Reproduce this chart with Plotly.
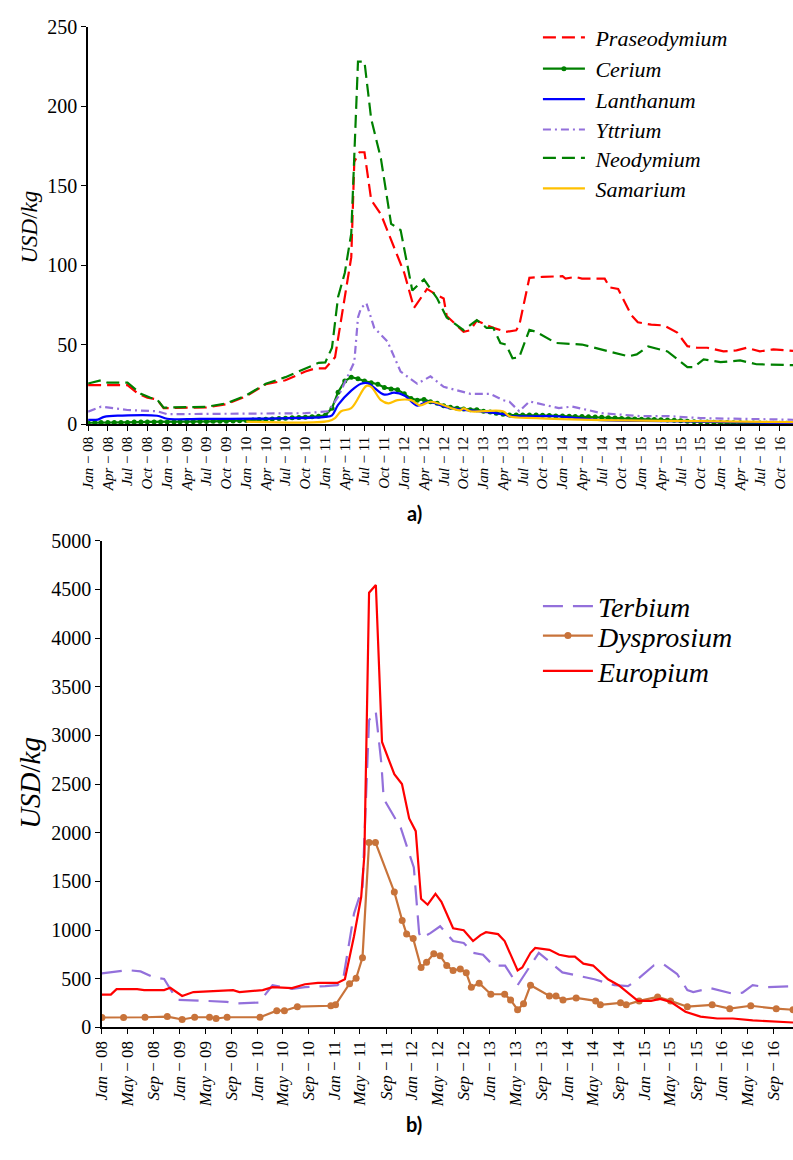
import plotly.graph_objects as go
import pandas as pd

# ---------------- panel (a) data : USD/kg ----------------
pr_dates = ["2008-01-01", "2008-04-01", "2008-07-01", "2008-08-15", "2008-10-01", "2008-11-15",
            "2008-12-15", "2009-07-01", "2009-10-01", "2010-01-01", "2010-04-01", "2010-07-01",
            "2010-10-01", "2010-11-15", "2011-01-01", "2011-02-15", "2011-05-01", "2011-05-15",
            "2011-06-08", "2011-07-01", "2011-08-01", "2011-09-15", "2012-01-01", "2012-02-15",
            "2012-04-15", "2012-06-01", "2012-07-01", "2012-07-15", "2012-10-01", "2012-11-01",
            "2012-12-01", "2013-02-15", "2013-04-15", "2013-06-01", "2013-06-15", "2013-08-01",
            "2013-10-01", "2014-01-01", "2014-01-15", "2014-03-01", "2014-04-01", "2014-07-15",
            "2014-08-07", "2014-09-15", "2014-11-15", "2014-12-15", "2015-02-15", "2015-04-15",
            "2015-06-15", "2015-08-01", "2015-09-15", "2015-11-01", "2016-01-15", "2016-03-15",
            "2016-05-01", "2016-07-01", "2016-09-01", "2016-12-01"]
pr_vals = [24.5, 24.5, 24.5, 19.5, 16.5, 15.5,
           10.0, 10.5, 12.5, 17.5, 25.0, 27.5,
           33.0, 35.0, 35.0, 42.0, 105.0, 165.0,
           171.0, 171.0, 141.0, 132.0, 95.0, 73.0,
           85.0, 81.0, 79.0, 68.0, 58.0, 59.0,
           65.0, 60.5, 58.0, 59.0, 62.0, 92.0,
           92.6, 93.0, 91.5, 92.6, 91.5, 91.5,
           86.0, 85.0, 68.5, 64.0, 62.5, 62.0,
           57.5, 49.0, 48.0, 48.0, 45.7, 46.3,
           48.0, 45.7, 47.0, 46.0]

nd_dates = ["2008-01-01", "2008-03-01", "2008-04-01", "2008-07-01", "2008-09-01", "2008-10-15",
            "2008-11-15", "2008-12-15", "2009-07-01", "2009-10-01", "2010-01-01", "2010-04-01",
            "2010-07-01", "2010-10-01", "2010-12-01", "2011-01-01", "2011-02-01", "2011-03-01",
            "2011-04-01", "2011-05-01", "2011-05-15", "2011-06-01", "2011-07-01", "2011-08-01",
            "2011-09-15", "2011-11-01", "2011-12-15", "2012-02-07", "2012-04-01", "2012-06-01",
            "2012-07-15", "2012-10-01", "2012-12-01", "2013-01-15", "2013-02-15", "2013-03-20",
            "2013-04-15", "2013-05-15", "2013-06-15", "2013-08-01", "2013-09-01", "2013-12-01",
            "2014-04-01", "2014-07-01", "2014-11-01", "2014-12-10", "2015-02-01", "2015-05-01",
            "2015-06-15", "2015-08-01", "2015-09-01", "2015-10-15", "2016-01-01", "2016-04-01",
            "2016-06-15", "2016-12-01"]
nd_vals = [25.5, 27.5, 26.0, 26.0, 19.0, 16.5,
           15.5, 10.3, 10.8, 13.0, 18.0, 25.3,
           29.5, 35.0, 38.5, 38.8, 48.0, 80.0,
           95.0, 120.0, 173.0, 228.0, 228.0, 192.0,
           167.0, 126.0, 122.0, 84.0, 91.0, 79.0,
           67.0, 59.0, 65.4, 60.5, 60.5, 51.0,
           50.0, 41.4, 42.0, 59.3, 58.0, 51.0,
           50.0, 47.0, 42.6, 43.8, 48.8, 45.7,
           40.7, 35.8, 35.8, 40.7, 38.9, 40.0,
           37.6, 37.0]

y_dates = ["2008-01-01", "2008-03-01", "2008-07-01", "2008-11-15", "2009-01-01", "2010-10-01",
           "2011-01-15", "2011-03-01", "2011-05-15", "2011-06-01", "2011-06-15", "2011-07-10",
           "2011-08-15", "2011-10-15", "2011-12-15", "2012-03-01", "2012-05-01", "2012-07-01",
           "2012-11-01", "2013-02-01", "2013-04-01", "2013-05-01", "2013-06-15", "2013-08-01",
           "2013-12-15", "2014-02-15", "2014-07-01", "2014-10-01", "2015-01-01", "2015-05-01",
           "2015-10-01", "2016-12-01"]
y_vals = [7.8, 10.9, 8.8, 8.0, 6.2, 6.8,
          8.0, 17.0, 39.0, 67.0, 73.0, 76.0,
          60.5, 52.0, 33.0, 25.3, 30.0, 23.4,
          19.0, 19.0, 15.0, 14.0, 8.0, 14.2,
          10.0, 11.0, 6.8, 5.8, 4.9, 5.0,
          3.7, 2.7]

la_dates = ["2008-01-01", "2008-02-15", "2008-03-15", "2008-06-01", "2008-11-15", "2009-01-01",
            "2009-06-01", "2010-06-01", "2011-01-01", "2011-02-01", "2011-03-01", "2011-05-01",
            "2011-06-15", "2011-07-15", "2011-10-01", "2011-11-15", "2012-01-01", "2012-03-01",
            "2012-04-15", "2012-08-01", "2012-12-15", "2013-04-01", "2013-05-01", "2013-12-01",
            "2014-07-01", "2015-05-01", "2016-12-01"]
la_vals = [2.7, 2.8, 4.5, 5.3, 5.2, 3.3,
           3.2, 3.6, 4.5, 5.5, 12.0, 21.0,
           25.3, 25.7, 18.5, 19.7, 18.0, 11.5,
           14.0, 10.0, 8.0, 6.2, 5.0, 4.9,
           2.5, 1.8, 0.6]

sm_dates = ["2010-01-01", "2011-01-15", "2011-02-15", "2011-03-15", "2011-05-01", "2011-07-10",
            "2011-08-01", "2011-09-15", "2011-10-20", "2011-12-01", "2012-02-01", "2012-03-15",
            "2012-05-01", "2012-09-15", "2012-10-01", "2012-11-01", "2013-04-01", "2013-05-01",
            "2013-09-01", "2014-07-01", "2015-10-01", "2016-12-01"]
sm_vals = [1.5, 1.8, 3.7, 8.0, 10.0, 24.0,
           23.4, 15.0, 13.0, 15.0, 15.0, 11.7,
           14.0, 8.6, 9.9, 8.0, 8.0, 4.9,
           3.7, 2.5, 1.8, 1.2]

# Cerium: monthly Jan-2008 .. Dec-2016
ce_vals = [0.8, 0.8, 0.9, 1.0, 1.0, 1.0, 1.0, 1.2, 1.2, 1.3, 1.3, 1.3,
           1.3, 1.3, 1.4, 1.5, 1.5, 1.6, 1.6, 1.7, 1.8, 1.8, 1.9, 2.0,
           2.2, 2.5, 2.8, 3.0, 3.2, 3.5, 3.7, 3.9, 4.1, 4.3, 4.6, 4.9,
           5.5, 10.0, 20.0, 27.0, 29.5, 28.5, 27.0, 26.0, 25.0, 23.0, 22.0, 21.5,
           19.0, 16.0, 15.0, 15.5, 14.0, 13.0, 11.5, 10.5, 10.0, 9.5, 9.0, 9.0,
           8.0, 7.5, 6.8, 6.2, 5.6, 5.6, 5.6, 5.6, 5.6, 5.5, 5.3, 5.1,
           5.0, 4.9, 4.8, 4.7, 4.5, 4.4, 4.3, 4.0, 3.8, 3.5, 3.3, 3.1,
           3.0, 2.9, 2.8, 2.7, 2.5, 2.3, 2.0, 1.8, 1.5, 1.3, 1.2, 1.1,
           1.0, 0.9, 0.8, 0.8, 0.7, 0.6, 0.6, 0.5, 0.5, 0.5, 0.5, 0.5]
ce_dates = [d.strftime("%Y-%m-%d") for d in pd.date_range("2008-01-01", periods=len(ce_vals), freq="MS")]

# ---------------- panel (b) data : USD/kg ----------------
tb_dates = ["2008-01-01", "2008-05-01", "2008-07-01", "2008-09-01", "2008-10-20", "2008-12-07",
            "2008-12-20", "2009-05-07", "2009-08-10", "2009-09-25", "2010-01-10", "2010-02-12",
            "2010-03-15", "2010-06-15", "2010-08-15", "2010-11-18", "2011-01-15", "2011-02-10",
            "2011-04-03", "2011-05-13", "2011-06-13", "2011-07-07", "2011-07-15", "2011-08-10",
            "2011-08-21", "2011-11-10", "2012-01-10", "2012-02-04", "2012-02-13", "2012-03-28",
            "2012-05-13", "2012-07-13", "2012-09-01", "2012-10-15", "2012-12-01", "2013-01-19",
            "2013-03-15", "2013-05-13", "2013-08-21", "2013-12-10", "2014-05-10", "2014-08-13",
            "2014-10-15", "2014-11-13", "2015-02-15", "2015-04-01", "2015-06-04", "2015-07-22",
            "2015-08-19", "2015-11-07", "2016-02-21", "2016-04-07", "2016-05-25", "2016-07-28",
            "2016-12-01"]
tb_vals = [554, 588, 575, 514, 497, 333,
           282, 272, 262, 245, 255, 346,
           433, 396, 413, 423, 433, 484,
           1169, 1441, 3155, 3246, 3236, 2712,
           2349, 2046, 1643, 968, 917, 968,
           1038, 887, 867, 766, 746, 635,
           635, 433, 766, 565, 494, 433,
           423, 464, 638, 648, 548, 383,
           363, 403, 346, 356, 433, 413,
           423]

dy_dates = ["2008-01-01", "2008-04-12", "2008-07-22", "2008-11-04", "2009-01-13", "2009-03-13",
            "2009-05-22", "2009-06-22", "2009-08-13", "2010-01-15", "2010-04-04", "2010-05-10",
            "2010-07-10", "2010-12-15", "2011-01-06", "2011-03-13", "2011-04-13", "2011-05-13",
            "2011-06-13", "2011-07-13", "2011-10-10", "2011-11-16", "2011-12-07", "2012-01-07",
            "2012-02-13", "2012-03-10", "2012-04-13", "2012-05-13", "2012-06-13", "2012-07-13",
            "2012-08-16", "2012-09-13", "2012-10-07", "2012-11-13", "2013-01-07", "2013-03-13",
            "2013-04-10", "2013-05-13", "2013-06-10", "2013-07-13", "2013-10-10", "2013-11-10",
            "2013-12-13", "2014-02-13", "2014-05-16", "2014-06-07", "2014-09-10", "2014-10-07",
            "2014-12-07", "2015-03-04", "2015-05-04", "2015-07-22", "2015-11-16", "2016-02-07",
            "2016-05-16", "2016-09-13", "2016-12-01"]
dy_vals = [101, 101, 104, 111, 81, 104,
           104, 91, 104, 104, 171, 171,
           212, 222, 232, 448, 505, 716,
           1900, 1900, 1391, 1099, 958, 912,
           615, 670, 756, 736, 635, 585,
           600, 560, 413, 454, 340, 340,
           282, 181, 242, 433, 322, 322,
           282, 302, 272, 232, 252, 232,
           272, 312, 272, 212, 232, 192,
           222, 192, 181]

eu_dates = ["2008-01-01", "2008-02-12", "2008-03-10", "2008-06-15", "2008-07-18", "2008-10-20",
            "2008-11-18", "2009-01-13", "2009-03-07", "2009-09-10", "2009-10-10", "2010-01-28",
            "2010-03-15", "2010-06-15", "2010-08-15", "2010-10-15", "2011-01-15", "2011-02-19",
            "2011-04-03", "2011-05-07", "2011-05-22", "2011-06-13", "2011-07-15", "2011-08-13",
            "2011-10-10", "2011-11-15", "2011-12-19", "2012-01-19", "2012-02-13", "2012-03-15",
            "2012-04-21", "2012-05-19", "2012-07-13", "2012-09-01", "2012-10-15", "2012-11-19",
            "2012-12-15", "2013-02-10", "2013-03-13", "2013-05-13", "2013-06-04", "2013-07-13",
            "2013-08-04", "2013-10-10", "2013-11-25", "2014-01-10", "2014-02-07", "2014-03-19",
            "2014-05-04", "2014-07-13", "2014-09-01", "2014-12-01", "2015-02-01", "2015-03-15",
            "2015-05-04", "2015-07-13", "2015-09-22", "2015-12-10", "2016-02-21", "2016-05-25",
            "2016-12-01"]
eu_vals = [336, 336, 393, 393, 383, 383,
           406, 322, 363, 383, 363, 383,
           413, 403, 443, 457, 457, 494,
           937, 1341, 1774, 4466, 4546, 2933,
           2601, 2500, 2147, 2016, 1321, 1260,
           1371, 1290, 1018, 998, 887, 948,
           978, 958, 887, 585, 615, 766,
           816, 796, 746, 726, 726, 655,
           635, 494, 433, 272, 272, 292,
           262, 161, 111, 91, 91, 71,
           50]

# ---------------- tick labels ----------------
months = ["Jan", "Feb", "Mar", "Apr", "May", "Jun", "Jul", "Aug", "Sep", "Oct", "Nov", "Dec"]
ticks_a = pd.date_range("2008-01-01", "2016-10-01", freq="3MS")
ticks_b = pd.date_range("2008-01-01", "2016-09-01", freq="4MS")
tickvals_a = [d.strftime("%Y-%m-%d") for d in ticks_a]
ticktext_a = ["<i>%s</i> − %02d" % (months[d.month - 1], d.year % 100) for d in ticks_a]
tickvals_b = [d.strftime("%Y-%m-%d") for d in ticks_b]
ticktext_b = ["<i>%s</i> − %02d" % (months[d.month - 1], d.year % 100) for d in ticks_b]

SERIF = "Liberation Serif"
W, H = 793, 1160

fig = go.Figure()

def add(x, y, name, color, dash, ax, leg, shape="linear", marker=False, msize=6, pad=""):
    fig.add_trace(go.Scatter(
        x=x, y=y, name=pad + "<i>%s</i>" % name,
        mode="lines+markers" if marker else "lines",
        line=dict(color=color, width=2.2, dash=dash, shape=shape),
        marker=dict(size=msize, color=color) if marker else None,
        xaxis="x" if ax == 1 else "x2", yaxis="y" if ax == 1 else "y2",
        legend=leg))

P = "\u00a0"
add(pr_dates, pr_vals, "Praseodymium", "#ff0000", "13px,6px", 1, "legend", pad=P)
add(ce_dates, ce_vals, "Cerium", "#008000", "solid", 1, "legend2", marker=True, msize=5, pad=P)
add(la_dates, la_vals, "Lanthanum", "#0000ff", "solid", 1, "legend3", shape="spline", pad=P)
add(y_dates, y_vals, "Yttrium", "#9370db", "8px,4px,2px,4px", 1, "legend4", pad=P)
add(nd_dates, nd_vals, "Neodymium", "#008000", "13px,6px", 1, "legend5", pad=P)
add(sm_dates, sm_vals, "Samarium", "#ffc000", "solid", 1, "legend6", shape="spline", pad=P)

add(tb_dates, tb_vals, "Terbium", "#9370db", "20px,10px", 2, "legend7")
add(dy_dates, dy_vals, "Dysprosium", "#c8733a", "solid", 2, "legend8", marker=True, msize=7)
add(eu_dates, eu_vals, "Europium", "#ff0000", "solid", 2, "legend9")

axis_common = dict(showline=True, linecolor="black", linewidth=1.5, ticks="outside",
                   ticklen=5, tickwidth=1.2, tickcolor="black", showgrid=False, zeroline=False,
                   mirror=False)

def leg(yc, size, iw):
    return dict(x=535 / W, y=1 - yc / H, xanchor="left", yanchor="middle",
                bgcolor="rgba(0,0,0,0)", borderwidth=0, itemwidth=iw,
                font=dict(size=size, family=SERIF))

legend_centers_a = [27, 59, 90, 121, 150, 181]
legend_centers_b = [607, 637, 673]

layout_legends = {}
names = ["legend"] + ["legend%d" % i for i in range(2, 10)]
for i, nm in enumerate(names):
    if i < 6:
        layout_legends[nm] = leg(legend_centers_a[i], 22, 42)
    else:
        layout_legends[nm] = leg(legend_centers_b[i - 6], 28, 50)

fig.update_layout(
    width=W, height=H,
    margin=dict(l=0, r=0, t=0, b=0),
    paper_bgcolor="white", plot_bgcolor="white",
    font=dict(family=SERIF, color="black"),
    xaxis=dict(domain=[80 / W, 1.0], anchor="y", type="date",
               range=["2008-01-01", "2016-12-01"],
               tickmode="array", tickvals=tickvals_a, ticktext=ticktext_a,
               tickangle=-90, tickfont=dict(size=15, family=SERIF), **axis_common),
    yaxis=dict(domain=[1 - 421 / H, 1 - 16 / H], anchor="x", range=[0, 250],
               tickmode="array", tickvals=[0, 50, 100, 150, 200, 250],
               tickfont=dict(size=20, family=SERIF), **axis_common),
    xaxis2=dict(domain=[94 / W, 1.0], anchor="y2", type="date",
                range=["2008-01-01", "2016-12-01"],
                tickmode="array", tickvals=tickvals_b, ticktext=ticktext_b,
                tickangle=-90, tickfont=dict(size=17, family=SERIF), **axis_common),
    yaxis2=dict(domain=[1 - 1036 / H, 1 - 540 / H], anchor="x2", range=[0, 5000],
                tickmode="array", tickvals=list(range(0, 5001, 500)),
                tickfont=dict(size=20, family=SERIF), **axis_common),
    showlegend=True,
    annotations=[
        dict(text="<i>USD</i>/<i>kg</i>", x=21 / W, y=1 - 220 / H, xref="paper", yref="paper",
             xanchor="center", yanchor="middle",
             textangle=-90, showarrow=False, font=dict(size=23, family=SERIF)),
        dict(text="<i>USD</i>/<i>kg</i>", x=21 / W, y=1 - 787 / H, xref="paper", yref="paper",
             xanchor="center", yanchor="middle",
             textangle=-90, showarrow=False, font=dict(size=29, family=SERIF)),
        dict(text="<b>a)</b>", x=410 / W, y=1 - 512 / H, xref="paper", yref="paper",
             xanchor="center", yanchor="middle",
             showarrow=False, font=dict(size=20, family="Lato")),
        dict(text="<b>b)</b>", x=410 / W, y=1 - 1135 / H, xref="paper", yref="paper",
             xanchor="center", yanchor="middle",
             showarrow=False, font=dict(size=20, family="Lato")),
    ],
    **layout_legends,
)

fig.write_html("out.html")
